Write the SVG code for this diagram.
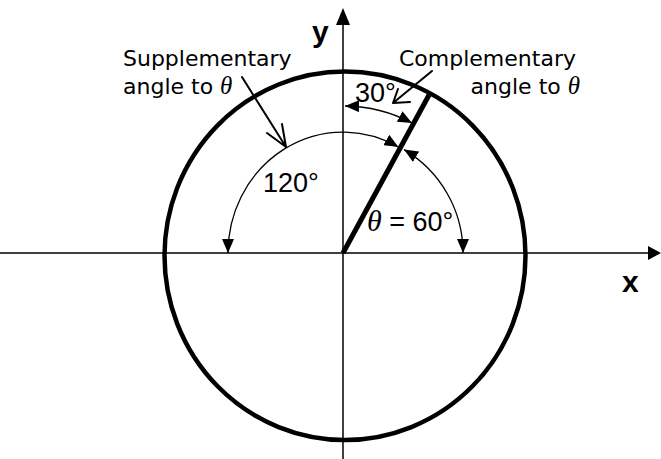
<svg xmlns="http://www.w3.org/2000/svg" width="661" height="459" viewBox="0 0 661 459">
<style>
.axis{stroke:#000;stroke-width:1.5;fill:none}
.thick{stroke:#000;stroke-width:4.5;fill:none}
.arc{stroke:#000;stroke-width:1.3;fill:none;marker-start:url(#ah);marker-end:url(#ah)}
.ptr{stroke:#000;stroke-width:2;fill:none;stroke-linecap:round;stroke-linejoin:round}
.lbl{font-family:"DejaVu Sans","Liberation Sans",sans-serif;font-size:22px;fill:#000}
.num{font-family:"Liberation Sans",Arial,sans-serif;font-size:27px;fill:#000}
.ax{font-family:"Liberation Sans",Arial,sans-serif;font-size:30px;font-weight:bold;fill:#000}
.th{font-family:"Liberation Serif","Times New Roman",serif;font-style:italic}
</style>
<defs>
<marker id="ah" viewBox="0 0 14 12" refX="14" refY="6" markerWidth="14" markerHeight="12" markerUnits="userSpaceOnUse" orient="auto-start-reverse">
<path d="M0,0 L14,6 L0,12 z" fill="#000"/>
</marker>
</defs>
<rect width="661" height="459" fill="#fff"/>
<g id="axes">
<line class="axis" x1="0" y1="253" x2="650" y2="253"/>
<polygon points="661,253 648,246 648,260" fill="#000"/>
<line class="axis" x1="343" y1="459" x2="343" y2="22"/>
<polygon points="343,8 336,25 350,25" fill="#000"/>
<text class="ax" x="312" y="42">y</text>
<text class="ax" x="622" y="292">x</text>
</g>
<g id="circle">
<ellipse class="thick" cx="345" cy="255.8" rx="180.5" ry="184.2"/>
</g>
<g id="radius">
<line x1="343" y1="253" x2="429" y2="95" stroke="#000" stroke-width="5" stroke-linecap="butt"/>
</g>
<g id="connectors">
<path class="arc" d="M398.4,147 A115,121 0 0 0 228,253"/>
<path class="arc" d="M463,253 A120,120 0 0 0 404,149.6"/>
<path class="arc" d="M345,106 A147,147 0 0 1 412,123"/>
<path class="ptr" d="M242,77 L286,147 M267,133 L286,147 L282,124"/>
<path class="ptr" d="M432,71 L393,103 M410,102 L393,103 L398,89"/>
</g>
<g id="label-supplementary">
<text class="lbl" x="123" y="66">Supplementary</text>
<text class="lbl" x="123" y="94">angle to <tspan class="th" font-size="25">θ</tspan></text>
</g>
<g id="label-complementary">
<text class="lbl" x="399" y="66">Complementary</text>
<text class="lbl" x="580" y="94" text-anchor="end">angle to <tspan class="th" font-size="25">θ</tspan></text>
</g>
<g id="label-30">
<text class="num" x="355" y="102">30°</text>
</g>
<g id="label-120">
<text class="num" x="263" y="192">120°</text>
</g>
<g id="label-60">
<text class="num" x="367" y="231"><tspan class="th" font-size="30">θ</tspan> = 60°</text>
</g>
</svg>
